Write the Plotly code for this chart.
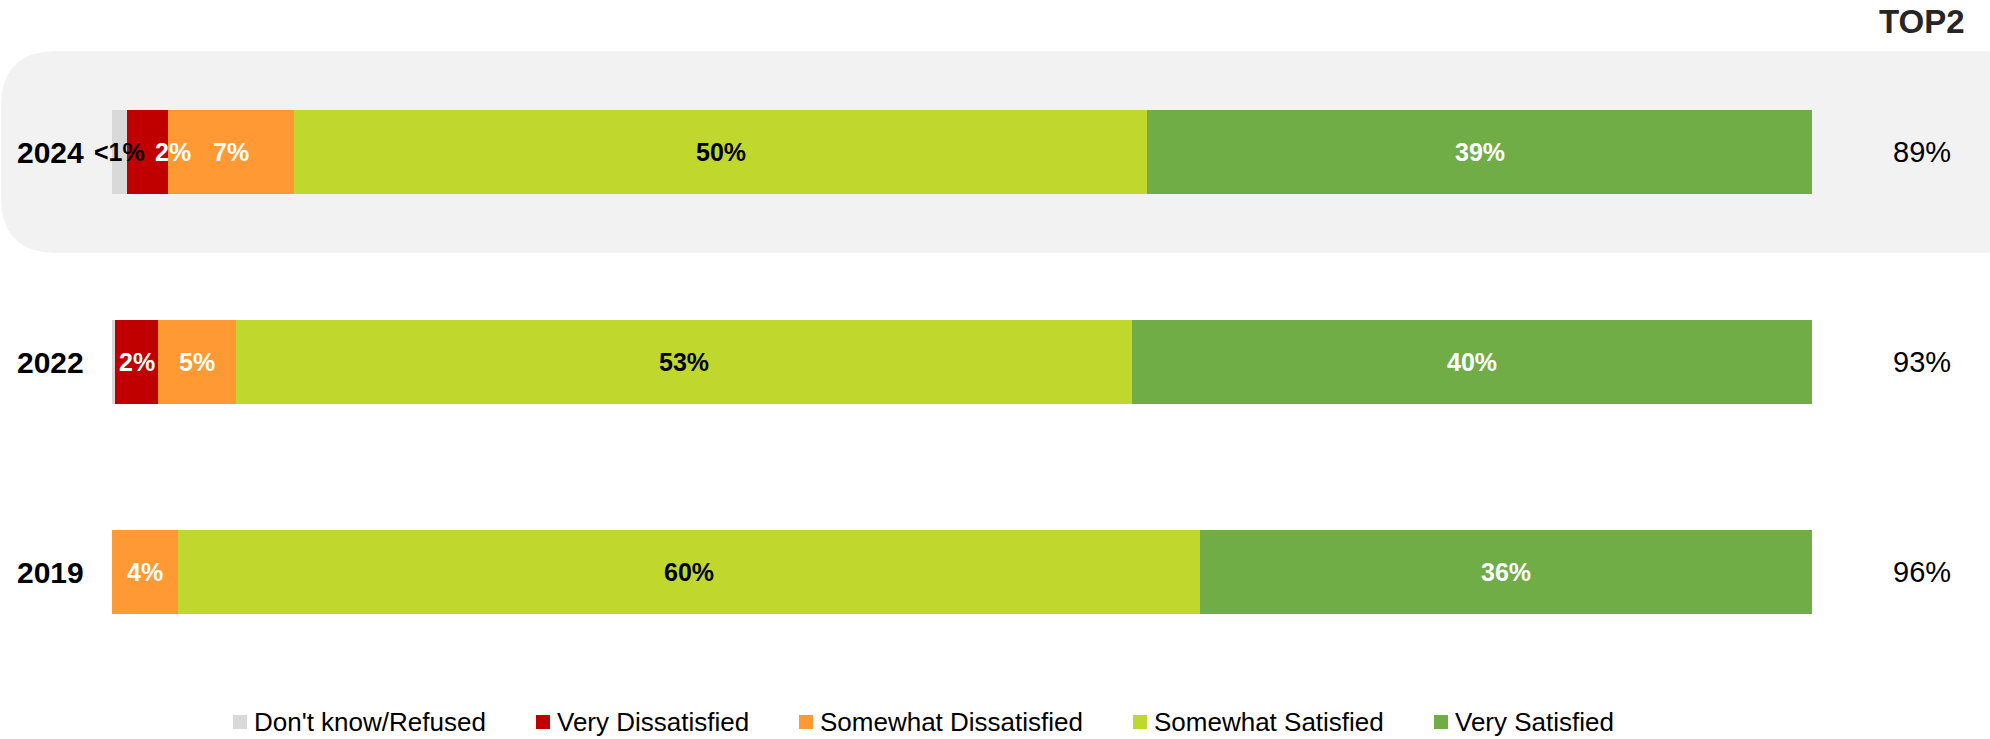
import plotly.graph_objects as go

# ---------------- data ----------------
years = ["2024", "2022", "2019"]
series_names = ["Don't know/Refused", "Very Dissatisfied", "Somewhat Dissatisfied",
                "Somewhat Satisfied", "Very Satisfied"]
dont_know = [0.9, 0.2, 0.0]
very_dissatisfied = [2.4, 2.5, 0.0]
somewhat_dissatisfied = [7.4, 4.6, 3.9]
somewhat_satisfied = [50.2, 52.7, 60.1]
very_satisfied = [39.1, 40.0, 36.0]

dont_know_labels = ["<1%", "", ""]
very_dissatisfied_labels = ["2%", "2%", ""]
somewhat_dissatisfied_labels = ["7%", "5%", "4%"]
somewhat_satisfied_labels = ["50%", "53%", "60%"]
very_satisfied_labels = ["39%", "40%", "36%"]

top2_labels = ["89%", "93%", "96%"]
top2_header = "TOP2"

# ---------------- styling ----------------
W, H = 1990, 739
FONT = "Liberation Sans, Arial, Helvetica, sans-serif"
colors = ["#D9D9D9", "#C00000", "#FF9933", "#C0D82E", "#70AD47"]
label_colors = ["black", "white", "white", "black", "white"]

values = [dont_know, very_dissatisfied, somewhat_dissatisfied, somewhat_satisfied, very_satisfied]
labels = [dont_know_labels, very_dissatisfied_labels, somewhat_dissatisfied_labels,
          somewhat_satisfied_labels, very_satisfied_labels]

ypos = [2, 1, 0]  # 2024 on top

# pixel geometry helpers (margins are zero, so paper == pixels)
bar_left_px, bar_right_px = 112, 1812
ppu = (bar_right_px - bar_left_px) / 100.0
x_range = [-bar_left_px / ppu, (W - bar_left_px) / ppu]
row_px = 210.0
top_row_center_px = 152
y_top = ypos[0] + top_row_center_px / row_px
y_range = [y_top - H / row_px, y_top]

fig = go.Figure()
for name, vals, col in zip(series_names, values, colors):
    fig.add_trace(go.Bar(
        name=name, y=ypos, x=vals, orientation="h",
        marker=dict(color=col, line=dict(width=0)),
        width=0.4, hoverinfo="x+name", showlegend=False,
    ))

annotations = []
shapes = []

# segment labels
nudges = {(1, 0): 25}  # small label nudge for the crowded 2024 "2%" label
for si, (vals, labs) in enumerate(zip(values, labels)):
    for ri in range(len(years)):
        if not labs[ri]:
            continue
        base = sum(values[k][ri] for k in range(si))
        annotations.append(dict(
            x=base + vals[ri] / 2.0, y=ypos[ri], xref="x", yref="y",
            text="<b>%s</b>" % labs[ri], showarrow=False,
            xshift=nudges.get((si, ri), 0),
            font=dict(family=FONT, size=25, color=label_colors[si]),
        ))

# year labels
for ri, yr in enumerate(years):
    annotations.append(dict(
        x=86 / W, y=ypos[ri], xref="paper", yref="y", xanchor="right",
        text="<b>%s</b>" % yr, showarrow=False,
        font=dict(family=FONT, size=30, color="black"),
    ))

# TOP2 values
for ri, t in enumerate(top2_labels):
    annotations.append(dict(
        x=1922 / W, y=ypos[ri], xref="paper", yref="y", xanchor="center",
        text=t, showarrow=False,
        font=dict(family=FONT, size=29, color="black"),
    ))
annotations.append(dict(
    x=1922 / W, y=1 - 21 / H, xref="paper", yref="paper", xanchor="center", yanchor="middle",
    text="<b>%s</b>" % top2_header, showarrow=False,
    font=dict(family=FONT, size=33, color="#262626"),
))

# rounded highlight box behind 2024
x0, x1 = 1 / W, 1.0
yt, yb = 1 - 51 / H, 1 - 253 / H
rx, ry = 56 / W, 56 / H
path = (f"M {x0+rx},{yt} L {x1},{yt} L {x1},{yb} L {x0+rx},{yb} "
        f"Q {x0},{yb} {x0},{yb+ry} L {x0},{yt-ry} Q {x0},{yt} {x0+rx},{yt} Z")
shapes.append(dict(type="path", path=path, xref="paper", yref="paper",
                   fillcolor="#F2F2F2", line=dict(width=0), layer="below"))

# legend (swatch + label), laid out in pixels
legend_left_px = [233, 536, 799, 1133, 1434]
legend_cy_px = 722
sw = 14
for name, col, lx in zip(series_names, colors, legend_left_px):
    shapes.append(dict(type="rect", xref="paper", yref="paper",
                       x0=lx / W, x1=(lx + sw) / W,
                       y0=1 - (legend_cy_px + sw / 2) / H, y1=1 - (legend_cy_px - sw / 2) / H,
                       fillcolor=col, line=dict(width=0)))
    annotations.append(dict(
        x=(lx + sw + 5) / W, y=1 - legend_cy_px / H, xref="paper", yref="paper",
        xanchor="left", yanchor="middle", text=name, showarrow=False,
        font=dict(family=FONT, size=26, color="black"),
    ))

fig.update_layout(
    width=W, height=H,
    margin=dict(l=0, r=0, t=0, b=0),
    paper_bgcolor="white", plot_bgcolor="rgba(0,0,0,0)",
    barmode="stack", bargap=0,
    font=dict(family=FONT, size=24, color="black"),
    xaxis=dict(range=x_range, visible=False, fixedrange=True),
    yaxis=dict(range=y_range, visible=False, fixedrange=True),
    shapes=shapes,
    annotations=annotations,
    showlegend=False,
)

fig.write_html("out.html",
               config={"displayModeBar": False},
               post_script="document.body.style.margin='0';document.body.style.padding='0';")
